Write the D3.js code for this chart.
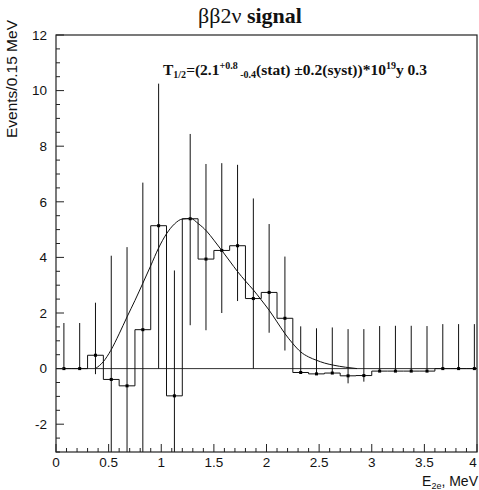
<!DOCTYPE html>
<html><head><meta charset="utf-8">
<script src="https://cdn.jsdelivr.net/npm/d3@7"></script>
<style>body{margin:0;background:#fff}svg{display:block}</style>
</head><body>
<script>
// ---- data ----
const binWidth = 0.15;
const binCenters = [0.075,0.225,0.375,0.525,0.675,0.825,0.975,1.125,1.275,1.425,1.575,1.725,1.875,2.025,2.175,2.325,2.475,2.625,2.775,2.925,3.075,3.225,3.375,3.525,3.675,3.825,3.975];
const counts = [0,0,0.48,-0.39,-0.62,1.40,5.14,-0.98,5.39,3.94,4.25,4.42,2.52,2.74,1.81,-0.14,-0.19,-0.16,-0.26,-0.25,-0.09,-0.09,-0.09,-0.09,0,0,0];
const errUp = [1.64,1.64,1.89,4.45,4.99,5.29,5.11,4.51,3.05,3.42,3.14,2.91,3.6,2.46,2.22,1.66,1.64,1.64,1.68,1.67,1.62,1.63,1.63,1.62,1.6,1.6,1.6];
const errDown = [0,0,0.68,4.45,4.99,5.29,5.14,4.51,3.83,2.56,2.25,1.99,2.52,1.45,1.16,0,0,0,0.27,0.22,0,0,0,0,0,0,0];
const fitE = [0.375,0.45,0.52,0.6,0.675,0.75,0.825,0.9,0.975,1.05,1.125,1.2,1.28,1.35,1.43,1.5,1.575,1.65,1.725,1.8,1.875,1.95,2.025,2.1,2.175,2.25,2.325,2.4,2.475,2.55,2.64,2.75,2.86];
const fitY = [0,0.25,0.65,1.25,1.86,2.45,3.07,3.7,4.34,4.85,5.2,5.38,5.4,5.22,4.95,4.62,4.25,3.87,3.49,3.15,2.83,2.47,2.1,1.68,1.26,0.9,0.6,0.42,0.3,0.2,0.12,0.05,0];
const xTickLabels = ["0","0.5","1","1.5","2","2.5","3","3.5","4"];
const yTickLabels = ["-2","0","2","4","6","8","10","12"];

// ---- layout ----
const W = 479, H = 490;
const L = 56, R = 477, T = 35, B = 452;
const svg = d3.select("body").append("svg").attr("width", W).attr("height", H);
const x = d3.scaleLinear().domain([0,4]).range([L,R]);
const y = d3.scaleLinear().domain([-3,12]).range([B,T]);
const ink = "#111";

svg.append("defs").append("clipPath").attr("id","c")
  .append("rect").attr("x",L).attr("y",T).attr("width",R-L).attr("height",B-T);

const g = svg.append("g").attr("clip-path","url(#c)");

// zero line
g.append("line").attr("x1",L).attr("x2",R).attr("y1",y(0)).attr("y2",y(0))
  .attr("stroke","#333").attr("stroke-width",1);

// histogram step outline
const steps = [];
binCenters.forEach((c,i)=>{
  steps.push([c-binWidth/2, counts[i]]);
  steps.push([c+binWidth/2, counts[i]]);
});
g.append("path").attr("d", d3.line().x(d=>x(d[0])).y(d=>y(d[1]))(steps))
  .attr("fill","none").attr("stroke",ink).attr("stroke-width",1);

// error bars
g.selectAll("line.err").data(binCenters).join("line").attr("class","err")
  .attr("x1",(d)=>x(d)).attr("x2",(d)=>x(d))
  .attr("y1",(d,i)=>y(counts[i]+errUp[i]))
  .attr("y2",(d,i)=>y(counts[i]-errDown[i]))
  .attr("stroke",ink).attr("stroke-width",1);

// markers
g.selectAll("rect.pt").data(binCenters).join("rect").attr("class","pt")
  .attr("x",d=>x(d)-1.5).attr("y",(d,i)=>y(counts[i])-1.5)
  .attr("width",3).attr("height",3).attr("fill","#000");

// fit curve
g.append("path").datum(fitE.map((e,i)=>[e,fitY[i]]))
  .attr("d", d3.line().x(d=>x(d[0])).y(d=>y(d[1])).curve(d3.curveMonotoneX))
  .attr("fill","none").attr("stroke",ink).attr("stroke-width",1);

// frame
svg.append("rect").attr("x",L).attr("y",T).attr("width",R-L).attr("height",B-T)
  .attr("fill","none").attr("stroke","#222").attr("stroke-width",1.2);

// x ticks (inward)
const xMinor = d3.range(0,4.001,0.1);
svg.append("g").selectAll("line").data(xMinor).join("line")
  .attr("x1",d=>x(d)).attr("x2",d=>x(d))
  .attr("y1",B).attr("y2",(d)=> (Math.abs(d*2-Math.round(d*2))<1e-6) ? B-8 : B-4)
  .attr("stroke","#222").attr("stroke-width",1);
const yMinor = d3.range(-3,12.001,0.5);
svg.append("g").selectAll("line").data(yMinor).join("line")
  .attr("y1",d=>y(d)).attr("y2",d=>y(d))
  .attr("x1",L).attr("x2",(d)=> (Math.abs(d/2-Math.round(d/2))<1e-6) ? L+8 : L+4)
  .attr("stroke","#222").attr("stroke-width",1);

// tick labels
const sans = "'Liberation Sans', Arial, Helvetica, sans-serif";
svg.append("g").selectAll("text").data(xTickLabels).join("text")
  .attr("x",d=>Math.min(x(+d), 473)).attr("y",467).attr("text-anchor","middle")
  .attr("font-family",sans).attr("font-size",13.5).attr("fill","#111").text(d=>d);
svg.append("g").selectAll("text").data(yTickLabels).join("text")
  .attr("x",47).attr("y",d=>y(+d)+4.8).attr("text-anchor","end")
  .attr("font-family",sans).attr("font-size",13.5).attr("fill","#111").text(d=>d);

// axis titles
svg.append("text").attr("transform","translate(17,20) rotate(-90)")
  .attr("text-anchor","end").attr("font-family",sans).attr("font-size",15.5).attr("fill","#111")
  .text("Events/0.15 MeV");
const xt = svg.append("text").attr("x",478).attr("y",486).attr("text-anchor","end")
  .attr("font-family",sans).attr("font-size",14).attr("fill","#111");
xt.append("tspan").text("E");
xt.append("tspan").attr("font-size",9).attr("dy",3).text("2e");
xt.append("tspan").attr("dy",-3).text(", MeV");

// title
const serif = "'Liberation Serif', 'Times New Roman', serif";
const tt = svg.append("text").attr("x",250).attr("y",23).attr("text-anchor","middle")
  .attr("font-family",serif).attr("font-size",22).attr("fill","#111");
tt.append("tspan").text("ββ2ν ");
tt.append("tspan").attr("font-weight","bold").text("signal");

// annotation
const an = svg.append("text").attr("x",163).attr("y",75)
  .attr("font-family",serif).attr("font-size",15.5).attr("font-weight","bold").attr("fill","#111");
an.append("tspan").text("T");
an.append("tspan").attr("font-size",10).attr("dy",3).text("1/2");
an.append("tspan").attr("dy",-3).text("=(2.1");
an.append("tspan").attr("font-size",10).attr("dy",-6).text("+0.8");
an.append("tspan").attr("font-size",10).attr("dy",9).text("  -0.4");
an.append("tspan").attr("dy",-3).text("(stat) ±0.2(syst))*10");
an.append("tspan").attr("font-size",10).attr("dy",-6).text("19");
an.append("tspan").attr("dy",6).text("y 0.3");
</script>
</body></html>
